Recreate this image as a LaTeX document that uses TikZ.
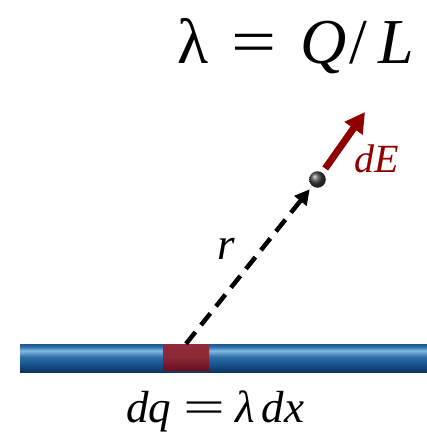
\documentclass[tikz,border=0pt]{standalone}
\usepackage{graphicx}
\usepackage{fontspec}
\newfontfamily\tnr{Liberation Serif}
\usetikzlibrary{arrows.meta,shadings}
\definecolor{Ered}{RGB}{145,0,0}
\definecolor{rodA}{HTML}{0B3560}
\definecolor{rodB}{HTML}{145089}
\definecolor{rodC}{HTML}{2D6FA8}
\definecolor{rodL}{HTML}{82BAE3}
\definecolor{rodT}{HTML}{1A5A92}
\definecolor{segT}{HTML}{922C3C}
\definecolor{segB}{HTML}{6A0F1E}
\pgfdeclareverticalshading{rodshade}{100bp}{color(0bp)=(rodA); color(25bp)=(rodA); color(37bp)=(rodB); color(52bp)=(rodC); color(63bp)=(rodL); color(70bp)=(rodC); color(75bp)=(rodT); color(100bp)=(rodT)}
\newcommand{\eqsign}[1]{\scalebox{#1}[1]{=}}
\tikzset{
  rodbox/.style={rectangle, inner sep=0pt, minimum width=407pt, minimum height=28pt, shading=rodshade},
  segbox/.style={rectangle, inner sep=0pt, minimum width=46pt, minimum height=26pt, top color=segT, bottom color=segB, middle color=segT!85!segB},
  charge/.style={circle, inner sep=0pt, minimum size=16.5pt, shading=ball, ball color=black!75},
  rline/.style={line width=4.5pt, dash pattern=on 15pt off 9pt, -{Triangle[length=15pt,width=15pt]}, shorten >=4pt},
  Earrow/.style={line width=7pt, Ered, -{Triangle[length=20pt,width=21pt]}, shorten <=5pt},
  lbl/.style={inner sep=0pt, anchor=base west},
}
\begin{document}
\begin{tikzpicture}[x=1pt,y=-1pt]
\useasboundingbox (0,0) rectangle (427,433);
\node[rodbox] (rod) at (223.5,358) {};
\node[segbox] (seg) at (186,357) {};
\node[charge] (dot) at (317.5,179.5) {};
\coordinate (Etip) at (365,112);
\draw[rline] (seg.north) -- (dot);
\draw[Earrow] (dot) -- (Etip);
\node[lbl, font=\tnr\fontsize{64}{66}\selectfont] (title) at (177,64) {λ\hspace{23pt}\eqsign{1.25}\hspace{24pt}\textit{Q}\hspace{3pt}/\hspace{11pt}\textit{L}};
\node[lbl, text=Ered, font=\tnr\fontsize{40}{42}\selectfont] (dE) at (354,172) {\textit{dE}};
\node[lbl, font=\tnr\fontsize{45}{48}\selectfont] (r) at (217,259) {\textit{r}};
\node[lbl, font=\tnr\fontsize{45}{48}\selectfont] (dq) at (126,422) {\textit{dq}\hspace{12pt}\eqsign{1.65}\hspace{10pt}\textit{λ}\hspace{7pt}\textit{dx}};
\end{tikzpicture}
\end{document}
